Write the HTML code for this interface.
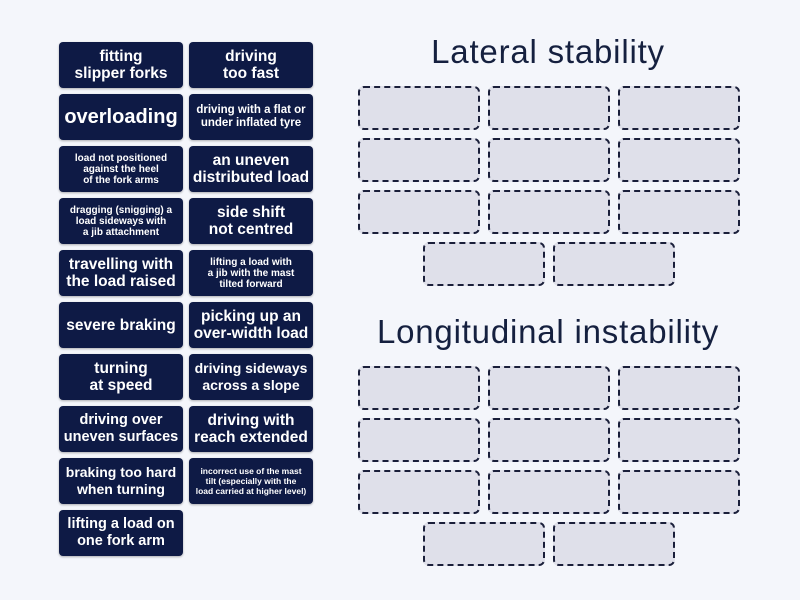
<!DOCTYPE html>
<html><head><meta charset="utf-8"><style>
body{margin:0;width:800px;height:600px;background:#f4f6fb;position:relative;overflow:hidden;font-family:"Liberation Sans",sans-serif;}
.t{position:absolute;width:124px;height:46px;background:#0e1a45;border-radius:4px;box-shadow:0 1px 2px rgba(0,0,0,.3);color:#fff;font-weight:bold;display:flex;align-items:center;justify-content:center;text-align:center;box-sizing:border-box;padding:0 3px;}
.a{font-size:15.5px;line-height:17px}
.b{font-size:11.5px;line-height:13px}
.c{font-size:10px;line-height:11px}
.d{font-size:8.5px;line-height:10px}
.x{position:absolute;width:122px;height:44px;box-sizing:border-box;background:#dfe0ea;border:2px dashed #1a1f3a;border-radius:6px;}
.h{position:absolute;left:348px;width:400px;text-align:center;font-size:33px;letter-spacing:0.8px;color:#15203f;}
</style></head><body>
<div class="t a" style="left:59px;top:42px">fitting<br>slipper forks</div>
<div class="t a" style="left:189px;top:42px">driving<br>too fast</div>
<div class="t" style="left:59px;top:94px;font-size:20px">overloading</div>
<div class="t b" style="left:189px;top:94px">driving with a flat or<br>under inflated tyre</div>
<div class="t c" style="left:59px;top:146px">load not positioned<br>against the heel<br>of the fork arms</div>
<div class="t a" style="left:189px;top:146px">an uneven<br>distributed load</div>
<div class="t c" style="left:59px;top:198px">dragging (snigging) a<br>load sideways with<br>a jib attachment</div>
<div class="t a" style="left:189px;top:198px">side shift<br>not centred</div>
<div class="t a" style="left:59px;top:250px">travelling with<br>the load raised</div>
<div class="t c" style="left:189px;top:250px">lifting a load with<br>a jib with the mast<br>tilted forward</div>
<div class="t a" style="left:59px;top:302px">severe braking</div>
<div class="t a" style="left:189px;top:302px">picking up an<br>over-width load</div>
<div class="t a" style="left:59px;top:354px">turning<br>at speed</div>
<div class="t a" style="left:189px;top:354px;font-size:14px">driving sideways<br>across a slope</div>
<div class="t a" style="left:59px;top:406px;font-size:14.5px">driving over<br>uneven surfaces</div>
<div class="t a" style="left:189px;top:406px">driving with<br>reach extended</div>
<div class="t a" style="left:59px;top:458px;font-size:14px">braking too hard<br>when turning</div>
<div class="t d" style="left:189px;top:458px">incorrect use of the mast<br>tilt (especially with the<br>load carried at higher level)</div>
<div class="t a" style="left:59px;top:510px;font-size:14.5px">lifting a load on<br>one fork arm</div>
<div class="h" style="top:33px">Lateral stability</div>
<div class="h" style="top:313px">Longitudinal instability</div>
<div class="x" style="left:358px;top:86px"></div><div class="x" style="left:488px;top:86px"></div><div class="x" style="left:618px;top:86px"></div>
<div class="x" style="left:358px;top:138px"></div><div class="x" style="left:488px;top:138px"></div><div class="x" style="left:618px;top:138px"></div>
<div class="x" style="left:358px;top:190px"></div><div class="x" style="left:488px;top:190px"></div><div class="x" style="left:618px;top:190px"></div>
<div class="x" style="left:423px;top:242px"></div><div class="x" style="left:553px;top:242px"></div>
<div class="x" style="left:358px;top:366px"></div><div class="x" style="left:488px;top:366px"></div><div class="x" style="left:618px;top:366px"></div>
<div class="x" style="left:358px;top:418px"></div><div class="x" style="left:488px;top:418px"></div><div class="x" style="left:618px;top:418px"></div>
<div class="x" style="left:358px;top:470px"></div><div class="x" style="left:488px;top:470px"></div><div class="x" style="left:618px;top:470px"></div>
<div class="x" style="left:423px;top:522px"></div><div class="x" style="left:553px;top:522px"></div>
</body></html>
